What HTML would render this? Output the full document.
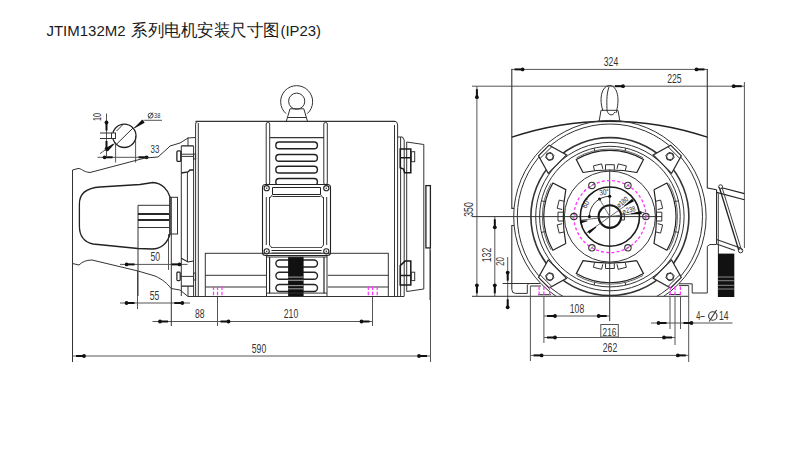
<!DOCTYPE html>
<html><head><meta charset="utf-8"><style>
html,body{margin:0;padding:0;background:#fff;width:800px;height:450px;overflow:hidden}
svg{position:absolute;left:0;top:0}
.title{position:absolute;left:46px;top:19px;font-family:"Liberation Sans",sans-serif;font-size:14px;color:#222;white-space:nowrap}
</style></head><body>
<svg width="800" height="450" viewBox="0 0 800 450">
<line x1="72.5" y1="170" x2="72.5" y2="362" stroke="#333" stroke-width="1"/>
<line x1="430.5" y1="250" x2="430.5" y2="362" stroke="#555" stroke-width="1"/>
<line x1="73" y1="356" x2="430" y2="356" stroke="#555" stroke-width="1"/>
<line x1="84.00" y1="356.00" x2="76.00" y2="356.00" stroke="#111" stroke-width="2"/>
<circle cx="84.00" cy="356.00" r="1.9" fill="#111"/>
<line x1="419.00" y1="356.00" x2="427.00" y2="356.00" stroke="#111" stroke-width="2"/>
<circle cx="419.00" cy="356.00" r="1.9" fill="#111"/>
<text transform="translate(259,352.5) scale(0.72,1)" font-family="Liberation Sans" font-size="12" text-anchor="middle" fill="#333">590</text>
<line x1="152.5" y1="321.5" x2="372.5" y2="321.5" stroke="#555" stroke-width="1"/>
<line x1="160.00" y1="321.50" x2="168.00" y2="321.50" stroke="#111" stroke-width="2"/>
<circle cx="160.00" cy="321.50" r="1.9" fill="#111"/>
<line x1="228.50" y1="321.50" x2="220.50" y2="321.50" stroke="#111" stroke-width="2"/>
<circle cx="228.50" cy="321.50" r="1.9" fill="#111"/>
<line x1="361.50" y1="321.50" x2="369.50" y2="321.50" stroke="#111" stroke-width="2"/>
<circle cx="361.50" cy="321.50" r="1.9" fill="#111"/>
<line x1="217.5" y1="296" x2="217.5" y2="326" stroke="#555" stroke-width="1"/>
<line x1="372.5" y1="296" x2="372.5" y2="326" stroke="#555" stroke-width="1"/>
<text transform="translate(199.7,317.5) scale(0.72,1)" font-family="Liberation Sans" font-size="12" text-anchor="middle" fill="#333">88</text>
<text transform="translate(291,317.5) scale(0.72,1)" font-family="Liberation Sans" font-size="12" text-anchor="middle" fill="#333">210</text>
<line x1="120" y1="303" x2="190" y2="303" stroke="#555" stroke-width="1"/>
<line x1="126.50" y1="303.00" x2="134.50" y2="303.00" stroke="#111" stroke-width="2"/>
<circle cx="126.50" cy="303.00" r="1.9" fill="#111"/>
<line x1="182.30" y1="303.00" x2="174.30" y2="303.00" stroke="#111" stroke-width="2"/>
<circle cx="182.30" cy="303.00" r="1.9" fill="#111"/>
<line x1="137.5" y1="271" x2="137.5" y2="309" stroke="#555" stroke-width="1"/>
<line x1="171.3" y1="197" x2="171.3" y2="326" stroke="#333" stroke-width="1"/>
<text transform="translate(154.5,299.5) scale(0.72,1)" font-family="Liberation Sans" font-size="12" text-anchor="middle" fill="#333">55</text>
<line x1="120" y1="264.4" x2="187.6" y2="264.4" stroke="#555" stroke-width="1"/>
<line x1="126.60" y1="264.40" x2="134.60" y2="264.40" stroke="#111" stroke-width="2"/>
<circle cx="126.60" cy="264.40" r="1.9" fill="#111"/>
<line x1="179.50" y1="264.40" x2="171.50" y2="264.40" stroke="#111" stroke-width="2"/>
<circle cx="179.50" cy="264.40" r="1.9" fill="#111"/>
<line x1="168.5" y1="234" x2="168.5" y2="270" stroke="#555" stroke-width="1"/>
<text transform="translate(155.3,261) scale(0.72,1)" font-family="Liberation Sans" font-size="12" text-anchor="middle" fill="#333">50</text>
<line x1="97.5" y1="157.3" x2="148.7" y2="157.3" stroke="#555" stroke-width="1"/>
<line x1="104.60" y1="157.30" x2="112.60" y2="157.30" stroke="#111" stroke-width="2"/>
<circle cx="104.60" cy="157.30" r="1.9" fill="#111"/>
<line x1="146.60" y1="157.30" x2="138.60" y2="157.30" stroke="#111" stroke-width="2"/>
<circle cx="146.60" cy="157.30" r="1.9" fill="#111"/>
<line x1="115.6" y1="144" x2="115.6" y2="162.5" stroke="#555" stroke-width="1"/>
<line x1="135.6" y1="136" x2="135.6" y2="162.5" stroke="#555" stroke-width="1"/>
<text transform="translate(155,152.5) scale(0.72,1)" font-family="Liberation Sans" font-size="11" text-anchor="middle" fill="#333">33</text>
<line x1="106.5" y1="113.5" x2="106.5" y2="157" stroke="#555" stroke-width="1"/>
<line x1="106.50" y1="122.50" x2="106.50" y2="130.50" stroke="#111" stroke-width="2"/>
<circle cx="106.50" cy="122.50" r="1.9" fill="#111"/>
<line x1="106.50" y1="149.00" x2="106.50" y2="141.00" stroke="#111" stroke-width="2"/>
<circle cx="106.50" cy="149.00" r="1.9" fill="#111"/>
<text transform="translate(101,117) rotate(-90) scale(0.72,1)" font-family="Liberation Sans" font-size="10" text-anchor="middle" fill="#333">10</text>
<line x1="100" y1="133" x2="111.5" y2="133" stroke="#333" stroke-width="1"/>
<line x1="100" y1="138.5" x2="111.5" y2="138.5" stroke="#333" stroke-width="1"/>
<line x1="100" y1="153.7" x2="113" y2="144" stroke="#555" stroke-width="1"/>
<polygon points="114.35,143.40 105.27,148.22 107.73,151.38 114.65,143.80" fill="#111"/>
<circle cx="124.3" cy="135.8" r="11.7" stroke="#222" stroke-width="1.3" fill="none"/>
<line x1="116.7" y1="144" x2="133" y2="128" stroke="#333" stroke-width="1"/>
<line x1="116.5" y1="131" x2="123" y2="124.5" stroke="#333" stroke-width="1"/>
<rect x="111.5" y="133" width="4" height="5.5" rx="0" stroke="#333" stroke-width="1" fill="#fff"/>
<line x1="134" y1="128" x2="144.5" y2="120.3" stroke="#555" stroke-width="1"/>
<polygon points="134.95,128.00 144.71,122.79 142.29,119.61 134.65,127.60" fill="#111"/>
<line x1="144.5" y1="120.3" x2="162" y2="120.3" stroke="#555" stroke-width="1"/>
<circle cx="150.6" cy="115.6" r="2.5" stroke="#333" stroke-width="0.9" fill="none"/>
<line x1="148.6" y1="118.4" x2="152.8" y2="112.6" stroke="#333" stroke-width="0.9"/>
<text transform="translate(157.2,118.2) scale(0.75,1)" font-family="Liberation Sans" font-size="7.5" text-anchor="middle" fill="#333">38</text>
<path d="M72.5,170 L78,168.5 C81,168 83,172 90,172.5 L145,158 L158,157 L168,148 L170,146 L180,143 L188,138 L195,137.5" stroke="#333" stroke-width="1" fill="none"/>
<path d="M72.5,263.5 L79,265 C82,262 86,260 92,260 L138,271 L155,276 C162,279 168,284 171,288.5 L180,290 L188,296.5 L404,296.5" stroke="#333" stroke-width="1" fill="none"/>
<path d="M79.4,226 L79.4,204 C79.4,194 85,188 100,187 L140,184.5 L153,182.5 C162,183 168,190 170,197 L170,234 C168,242 162,249 152,249 L138,248.5 L93,244 C84,242 79.4,236 79.4,226 Z" stroke="#222" stroke-width="1.3" fill="none"/>
<path d="M170,205.3 L138,205.3 L138,296" stroke="#333" stroke-width="1" fill="none"/>
<line x1="138" y1="214" x2="169" y2="214" stroke="#111" stroke-width="1.8"/>
<line x1="138" y1="220" x2="169" y2="220" stroke="#111" stroke-width="1.8"/>
<line x1="138" y1="227.5" x2="169" y2="227.5" stroke="#333" stroke-width="1"/>
<path d="M169,214 Q171,217 169,220" stroke="#333" stroke-width="1" fill="none"/>
<rect x="169.8" y="197.3" width="7.7" height="36.7" rx="0" stroke="#333" stroke-width="1" fill="none"/>
<line x1="181.3" y1="145.9" x2="181.3" y2="296" stroke="#333" stroke-width="1"/>
<line x1="187.4" y1="172" x2="187.4" y2="262" stroke="#333" stroke-width="1"/>
<line x1="188" y1="286.5" x2="188" y2="296" stroke="#333" stroke-width="1"/>
<line x1="193.6" y1="145.9" x2="193.6" y2="296" stroke="#333" stroke-width="1"/>
<path d="M195.6,296.5 L195.6,124 Q195.6,121.5 198,121.5" stroke="#333" stroke-width="1" fill="none"/>
<line x1="198.3" y1="123" x2="198.3" y2="296.5" stroke="#333" stroke-width="1"/>
<path d="M181.3,145.9 L193.6,145.9 M193.6,170 L190,170 L188,172 L181.3,173" stroke="#222" stroke-width="1.3" fill="none"/>
<line x1="188" y1="137.5" x2="188" y2="145.9" stroke="#333" stroke-width="1"/>
<rect x="176.9" y="150.9" width="3.9" height="10.5" rx="1.2" stroke="#222" stroke-width="1.3" fill="none"/>
<line x1="180.8" y1="154.2" x2="193.6" y2="154.2" stroke="#333" stroke-width="1"/>
<line x1="180.8" y1="156.4" x2="193.6" y2="156.4" stroke="#333" stroke-width="1"/>
<rect x="193.6" y="154" width="2" height="5" rx="0" stroke="#333" stroke-width="1" fill="none"/>
<path d="M181.3,258.3 L188,262 L193.6,261 M181.3,286.1 L193.6,286.1" stroke="#222" stroke-width="1.1" fill="none"/>
<rect x="176.9" y="272.2" width="3.3" height="8.4" rx="0.8" stroke="#222" stroke-width="1.2" fill="none"/>
<line x1="180.2" y1="276.4" x2="193.6" y2="276.4" stroke="#333" stroke-width="1"/>
<rect x="193.6" y="273" width="2" height="7" rx="0" stroke="#333" stroke-width="1" fill="none"/>
<line x1="195.5" y1="121.3" x2="395" y2="121.3" stroke="#333" stroke-width="1.2"/>
<path d="M395,121.3 Q397.6,121.5 397.6,125 L397.6,296.5" stroke="#333" stroke-width="1" fill="none"/>
<line x1="394.5" y1="125" x2="394.5" y2="296.5" stroke="#333" stroke-width="1"/>
<path d="M286,113.6 A16,16 0 1 1 307.3,113.6" stroke="#333" stroke-width="1" fill="none"/>
<circle cx="296.7" cy="101.2" r="8.1" stroke="#333" stroke-width="1" fill="none"/>
<path d="M286.3,121.3 L290,108.8 L303.8,108.8 L307.5,121.3" stroke="#333" stroke-width="1" fill="none"/>
<line x1="287.5" y1="117.5" x2="306" y2="117.5" stroke="#333" stroke-width="1"/>
<rect x="266.2" y="122.5" width="3.5" height="62" rx="1.5" stroke="#333" stroke-width="1" fill="none"/>
<rect x="323.8" y="122.5" width="3.5" height="62" rx="1.5" stroke="#333" stroke-width="1" fill="none"/>
<line x1="270" y1="137.7" x2="324" y2="137.7" stroke="#333" stroke-width="1.2"/>
<rect x="275.8" y="142" width="41.6" height="6.7" rx="3.3" stroke="#222" stroke-width="1.4" fill="none"/>
<rect x="275.8" y="154.5" width="41.6" height="6.7" rx="3.3" stroke="#222" stroke-width="1.4" fill="none"/>
<rect x="275.8" y="166.3" width="41.6" height="6.7" rx="3.3" stroke="#222" stroke-width="1.4" fill="none"/>
<rect x="275.8" y="178.5" width="41.6" height="6.7" rx="3.3" stroke="#222" stroke-width="1.4" fill="none"/>
<rect x="262.5" y="184.5" width="68" height="71" rx="3" stroke="#222" stroke-width="1.1" fill="#fff"/>
<line x1="266.3" y1="197" x2="266.3" y2="245" stroke="#333" stroke-width="1"/>
<line x1="269.5" y1="197" x2="269.5" y2="245" stroke="#333" stroke-width="1"/>
<line x1="323.5" y1="197" x2="323.5" y2="245" stroke="#333" stroke-width="1"/>
<line x1="326.7" y1="197" x2="326.7" y2="245" stroke="#333" stroke-width="1"/>
<path d="M272.5,187.5 L320.5,187.5 L320.5,194.5 L272.5,194.5 Z" stroke="#222" stroke-width="1" fill="none"/>
<line x1="272.5" y1="196.5" x2="320.5" y2="196.5" stroke="#333" stroke-width="1"/>
<path d="M272.5,194.5 L269.5,198.5 M320.5,194.5 L323.5,198.5" stroke="#333" stroke-width="1" fill="none"/>
<line x1="271.5" y1="247.5" x2="321.5" y2="247.5" stroke="#555" stroke-width="1"/>
<line x1="271.5" y1="250.5" x2="321.5" y2="250.5" stroke="#222" stroke-width="1.2"/>
<line x1="271.5" y1="253" x2="321.5" y2="253" stroke="#555" stroke-width="1"/>
<path d="M269.5,245 L272,248 M323.5,245 L321,248" stroke="#333" stroke-width="1" fill="none"/>
<circle cx="266.7" cy="188.2" r="2.6" stroke="#222" stroke-width="1.1" fill="none"/>
<circle cx="266.7" cy="188.2" r="0.8" stroke="#444" stroke-width="0" fill="#333"/>
<circle cx="326.3" cy="188.2" r="2.6" stroke="#222" stroke-width="1.1" fill="none"/>
<circle cx="326.3" cy="188.2" r="0.8" stroke="#444" stroke-width="0" fill="#333"/>
<circle cx="266.7" cy="251.3" r="2.6" stroke="#222" stroke-width="1.1" fill="none"/>
<circle cx="266.7" cy="251.3" r="0.8" stroke="#444" stroke-width="0" fill="#333"/>
<circle cx="326.3" cy="251.3" r="2.6" stroke="#222" stroke-width="1.1" fill="none"/>
<circle cx="326.3" cy="251.3" r="0.8" stroke="#444" stroke-width="0" fill="#333"/>
<rect x="275.9" y="260" width="41.6" height="7" rx="3.5" stroke="#222" stroke-width="1.4" fill="none"/>
<rect x="275.9" y="272.3" width="41.6" height="7" rx="3.5" stroke="#222" stroke-width="1.4" fill="none"/>
<rect x="275.9" y="284.5" width="41.6" height="7" rx="3.5" stroke="#222" stroke-width="1.4" fill="none"/>
<rect x="288.1" y="256.8" width="15.5" height="39.6" rx="0" stroke="#444" stroke-width="0" fill="#111"/>
<line x1="288.1" y1="277.1" x2="303.6" y2="277.1" stroke="#999" stroke-width="1.1"/>
<line x1="288.1" y1="280.3" x2="303.6" y2="280.3" stroke="#999" stroke-width="1.1"/>
<line x1="288.1" y1="285.6" x2="303.6" y2="285.6" stroke="#999" stroke-width="1.1"/>
<line x1="288.1" y1="288.8" x2="303.6" y2="288.8" stroke="#999" stroke-width="1.1"/>
<line x1="266.5" y1="255.6" x2="266.5" y2="296.5" stroke="#333" stroke-width="1"/>
<line x1="327" y1="255.6" x2="327" y2="296.5" stroke="#333" stroke-width="1"/>
<line x1="269.6" y1="257" x2="269.6" y2="293.5" stroke="#222" stroke-width="1.2"/>
<line x1="324" y1="257" x2="324" y2="293.5" stroke="#222" stroke-width="1.2"/>
<line x1="266.5" y1="257" x2="327" y2="257" stroke="#333" stroke-width="1"/>
<line x1="266.5" y1="293.1" x2="327" y2="293.1" stroke="#333" stroke-width="1"/>
<rect x="205.3" y="253.3" width="183" height="43.2" rx="0" stroke="#333" stroke-width="1" fill="none"/>
<line x1="205.3" y1="275.3" x2="266" y2="275.3" stroke="#333" stroke-width="1"/>
<line x1="327.8" y1="275.3" x2="388.3" y2="275.3" stroke="#333" stroke-width="1"/>
<line x1="205.3" y1="287" x2="266" y2="287" stroke="#333" stroke-width="1"/>
<line x1="327.8" y1="287" x2="388.3" y2="287" stroke="#333" stroke-width="1"/>
<line x1="213.5" y1="286.5" x2="213.5" y2="296.5" stroke="#f3f" stroke-width="1.2" stroke-dasharray="3.5,1.7"/>
<line x1="217.5" y1="286.5" x2="217.5" y2="296.5" stroke="#f3f" stroke-width="1.2" stroke-dasharray="3.5,1.7"/>
<line x1="222" y1="286.5" x2="222" y2="296.5" stroke="#f3f" stroke-width="1.2" stroke-dasharray="3.5,1.7"/>
<line x1="368.3" y1="286.5" x2="368.3" y2="296.5" stroke="#f3f" stroke-width="1.2" stroke-dasharray="3.5,1.7"/>
<line x1="372.6" y1="286.5" x2="372.6" y2="296.5" stroke="#f3f" stroke-width="1.2" stroke-dasharray="3.5,1.7"/>
<line x1="377.2" y1="286.5" x2="377.2" y2="296.5" stroke="#f3f" stroke-width="1.2" stroke-dasharray="3.5,1.7"/>
<path d="M397.6,137 L402.5,137 L404.2,140 L404.2,296.5 M406.7,142 L423.8,144.5 L423.8,289 L406.7,291.5 L406.7,142" stroke="#333" stroke-width="1" fill="none"/>
<line x1="400.6" y1="137" x2="400.6" y2="296" stroke="#333" stroke-width="1"/>
<path d="M400.2,148.9 L410.8,148.9 L410.8,172.8 L404.7,172.8 L403.5,169 L400.2,167.8 Z M400.2,157.8 L410.8,157.8" stroke="#1a1a1a" stroke-width="1.5" fill="none"/>
<rect x="411.3" y="151.7" width="3.4" height="10" rx="0" stroke="#333" stroke-width="1" fill="none"/>
<path d="M400.2,265.6 L405,261.1 L410.8,261.1 L410.8,285 L400.2,285 Z M400.2,275.6 L410.8,275.6" stroke="#1a1a1a" stroke-width="1.5" fill="none"/>
<rect x="411.3" y="272.2" width="3.4" height="8.4" rx="0" stroke="#333" stroke-width="1" fill="none"/>
<rect x="425.9" y="185.6" width="4.5" height="62.3" rx="0" stroke="#222" stroke-width="1.3" fill="none"/>
<line x1="430" y1="248" x2="430" y2="300" stroke="#333" stroke-width="1"/>
<line x1="511.6" y1="69.4" x2="707.5" y2="69.4" stroke="#555" stroke-width="1"/>
<line x1="522.60" y1="69.40" x2="514.60" y2="69.40" stroke="#111" stroke-width="2"/>
<circle cx="522.60" cy="69.40" r="1.9" fill="#111"/>
<line x1="696.50" y1="69.40" x2="704.50" y2="69.40" stroke="#111" stroke-width="2"/>
<circle cx="696.50" cy="69.40" r="1.9" fill="#111"/>
<text transform="translate(611,66.2) scale(0.72,1)" font-family="Liberation Sans" font-size="12" text-anchor="middle" fill="#333">324</text>
<line x1="472" y1="86.2" x2="744.7" y2="86.2" stroke="#555" stroke-width="1"/>
<line x1="623.00" y1="86.20" x2="615.00" y2="86.20" stroke="#111" stroke-width="2"/>
<circle cx="623.00" cy="86.20" r="1.9" fill="#111"/>
<line x1="733.70" y1="86.20" x2="741.70" y2="86.20" stroke="#111" stroke-width="2"/>
<circle cx="733.70" cy="86.20" r="1.9" fill="#111"/>
<text transform="translate(674.4,83.2) scale(0.72,1)" font-family="Liberation Sans" font-size="12" text-anchor="middle" fill="#333">225</text>
<line x1="744.4" y1="82" x2="744.4" y2="248" stroke="#555" stroke-width="1"/>
<path d="M511.8,69 L511.8,208.4 L514,208.4 M514,225.5 L511.8,225.5 L511.8,289.5" stroke="#333" stroke-width="1.1" fill="none"/>
<line x1="707.3" y1="69" x2="707.3" y2="188.3" stroke="#333" stroke-width="1.1"/>
<line x1="476.9" y1="86.2" x2="476.9" y2="296.3" stroke="#555" stroke-width="1"/>
<line x1="476.90" y1="97.20" x2="476.90" y2="89.20" stroke="#111" stroke-width="2"/>
<circle cx="476.90" cy="97.20" r="1.9" fill="#111"/>
<line x1="476.90" y1="285.30" x2="476.90" y2="293.30" stroke="#111" stroke-width="2"/>
<circle cx="476.90" cy="285.30" r="1.9" fill="#111"/>
<text transform="translate(472.8,209.5) rotate(-90) scale(0.72,1)" font-family="Liberation Sans" font-size="12" text-anchor="middle" fill="#333">350</text>
<line x1="494.8" y1="216.3" x2="494.8" y2="296.3" stroke="#555" stroke-width="1"/>
<line x1="494.80" y1="227.30" x2="494.80" y2="219.30" stroke="#111" stroke-width="2"/>
<circle cx="494.80" cy="227.30" r="1.9" fill="#111"/>
<line x1="494.80" y1="285.30" x2="494.80" y2="293.30" stroke="#111" stroke-width="2"/>
<circle cx="494.80" cy="285.30" r="1.9" fill="#111"/>
<text transform="translate(490.5,255) rotate(-90) scale(0.72,1)" font-family="Liberation Sans" font-size="12" text-anchor="middle" fill="#333">132</text>
<line x1="507.7" y1="257" x2="507.7" y2="308.5" stroke="#555" stroke-width="1"/>
<line x1="507.70" y1="272.60" x2="507.70" y2="280.60" stroke="#111" stroke-width="2"/>
<circle cx="507.70" cy="272.60" r="1.9" fill="#111"/>
<line x1="507.70" y1="307.30" x2="507.70" y2="299.30" stroke="#111" stroke-width="2"/>
<circle cx="507.70" cy="307.30" r="1.9" fill="#111"/>
<text transform="translate(503.5,261.5) rotate(-90) scale(0.72,1)" font-family="Liberation Sans" font-size="11" text-anchor="middle" fill="#333">20</text>
<line x1="472" y1="296.3" x2="688.7" y2="296.3" stroke="#333" stroke-width="1"/>
<line x1="502.6" y1="283.5" x2="540" y2="283.5" stroke="#333" stroke-width="1"/>
<path d="M511.8,137.2 A306.6,306.6 0 0 1 707.3,137.2" stroke="#222" stroke-width="1.4" fill="none"/>
<path d="M511.8,289.5 Q511.8,293.4 515.5,293.4 L527.3,293.4" stroke="#333" stroke-width="1" fill="none"/>
<path d="M707.3,246.3 L707.3,293 L692.2,293" stroke="#333" stroke-width="1" fill="none"/>
<defs><clipPath id="cb"><rect x="0" y="0" width="800" height="296.3"/></clipPath></defs><g clip-path="url(#cb)">
<circle cx="609.9" cy="216.6" r="96.2" stroke="#333" stroke-width="1" fill="none"/>
<circle cx="609.9" cy="216.6" r="92.6" stroke="#333" stroke-width="1" fill="none"/>
<circle cx="609.9" cy="216.6" r="79" stroke="#333" stroke-width="1.6" fill="none"/>
<circle cx="609.9" cy="216.6" r="74.2" stroke="#333" stroke-width="1" fill="none"/>
<circle cx="609.9" cy="216.6" r="70.3" stroke="#333" stroke-width="1" fill="none"/>
</g>
<circle cx="609.9" cy="216.6" r="45.5" stroke="#333" stroke-width="1" fill="none"/>
<line x1="472" y1="216.6" x2="662" y2="216.6" stroke="#333" stroke-width="1"/>
<line x1="609.7" y1="169.7" x2="609.7" y2="321" stroke="#333" stroke-width="1"/>
<path d="M681.3,155.8 L670.7,145.2 L653.2,154.9 L671.6,173.3 Z" stroke="#2a2a2a" stroke-width="1.2" fill="#fff"/>
<line x1="679.9" y1="158.6" x2="667.9" y2="146.6" stroke="#333" stroke-width="1"/>
<polygon points="673.0,153.5 668.9,152.4 665.9,155.4 667.0,159.5 671.1,160.6 674.1,157.6" stroke="#333" stroke-width="1" fill="none"/>
<circle cx="670.0" cy="156.5" r="3.3" stroke="#333" stroke-width="1" fill="none"/>
<path d="M549.1,145.2 L538.5,155.8 L548.2,173.3 L566.6,154.9 Z" stroke="#2a2a2a" stroke-width="1.2" fill="#fff"/>
<line x1="551.9" y1="146.6" x2="539.9" y2="158.6" stroke="#333" stroke-width="1"/>
<polygon points="546.8,153.5 545.7,157.6 548.7,160.6 552.8,159.5 553.9,155.4 550.9,152.4" stroke="#333" stroke-width="1" fill="none"/>
<circle cx="549.8" cy="156.5" r="3.3" stroke="#333" stroke-width="1" fill="none"/>
<path d="M538.5,277.4 L549.1,288.0 L566.6,278.3 L548.2,259.9 Z" stroke="#2a2a2a" stroke-width="1.2" fill="#fff"/>
<line x1="539.9" y1="274.6" x2="551.9" y2="286.6" stroke="#333" stroke-width="1"/>
<polygon points="546.8,279.7 550.9,280.8 553.9,277.8 552.8,273.7 548.7,272.6 545.7,275.6" stroke="#333" stroke-width="1" fill="none"/>
<circle cx="549.8" cy="276.7" r="3.3" stroke="#333" stroke-width="1" fill="none"/>
<path d="M670.7,288.0 L681.3,277.4 L671.6,259.9 L653.2,278.3 Z" stroke="#2a2a2a" stroke-width="1.2" fill="#fff"/>
<line x1="667.9" y1="286.6" x2="679.9" y2="274.6" stroke="#333" stroke-width="1"/>
<polygon points="673.0,279.7 674.1,275.6 671.1,272.6 667.0,273.7 665.9,277.8 668.9,280.8" stroke="#333" stroke-width="1" fill="none"/>
<circle cx="670.0" cy="276.7" r="3.3" stroke="#333" stroke-width="1" fill="none"/>
<path d="M583.0,172.5 L576.3,159.6 A66.2,66.2 0 0 1 643.5,159.6 L636.8,172.5 A148,148 0 0 0 583.0,172.5" stroke="#222" stroke-width="1.2" fill="none"/>
<path d="M595.0,152.1 L594.1,148.1 M624.8,152.1 L625.7,148.1" stroke="#333" stroke-width="1" fill="none"/>
<path d="M576.6,157.8 A67.6,67.6 0 0 1 643.2,157.8" stroke="#555" stroke-width="0.9" fill="none"/>
<path d="M614.3,169.9 L614.3,164.7 L605.5,164.7 L605.5,169.9" stroke="#333" stroke-width="1" fill="none"/>
<path d="M602.8,168.9 L601.6,163.9 L593.4,165.9 L594.6,170.9" stroke="#333" stroke-width="1" fill="none"/>
<path d="M625.2,170.9 L626.4,165.9 L618.2,163.9 L617.0,168.9" stroke="#333" stroke-width="1" fill="none"/>
<path d="M565.8,243.5 L552.9,250.2 A66.2,66.2 0 0 1 552.9,183.0 L565.8,189.7 A148,148 0 0 0 565.8,243.5" stroke="#222" stroke-width="1.2" fill="none"/>
<path d="M545.4,231.5 L541.4,232.4 M545.4,201.7 L541.4,200.8" stroke="#333" stroke-width="1" fill="none"/>
<path d="M551.1,249.9 A67.6,67.6 0 0 1 551.1,183.3" stroke="#555" stroke-width="0.9" fill="none"/>
<path d="M563.2,212.2 L558.0,212.2 L558.0,221.0 L563.2,221.0" stroke="#333" stroke-width="1" fill="none"/>
<path d="M562.2,223.7 L557.2,224.9 L559.2,233.1 L564.2,231.9" stroke="#333" stroke-width="1" fill="none"/>
<path d="M564.2,201.3 L559.2,200.1 L557.2,208.3 L562.2,209.5" stroke="#333" stroke-width="1" fill="none"/>
<path d="M636.8,260.7 L643.5,273.6 A66.2,66.2 0 0 1 576.3,273.6 L583.0,260.7 A148,148 0 0 0 636.8,260.7" stroke="#222" stroke-width="1.2" fill="none"/>
<path d="M624.8,281.1 L625.7,285.1 M595.0,281.1 L594.1,285.1" stroke="#333" stroke-width="1" fill="none"/>
<path d="M643.2,275.4 A67.6,67.6 0 0 1 576.6,275.4" stroke="#555" stroke-width="0.9" fill="none"/>
<path d="M605.5,263.3 L605.5,268.5 L614.3,268.5 L614.3,263.3" stroke="#333" stroke-width="1" fill="none"/>
<path d="M617.0,264.3 L618.2,269.3 L626.4,267.3 L625.2,262.3" stroke="#333" stroke-width="1" fill="none"/>
<path d="M594.6,262.3 L593.4,267.3 L601.6,269.3 L602.8,264.3" stroke="#333" stroke-width="1" fill="none"/>
<path d="M654.0,189.7 L666.9,183.0 A66.2,66.2 0 0 1 666.9,250.2 L654.0,243.5 A148,148 0 0 0 654.0,189.7" stroke="#222" stroke-width="1.2" fill="none"/>
<path d="M674.4,201.7 L678.4,200.8 M674.4,231.5 L678.4,232.4" stroke="#333" stroke-width="1" fill="none"/>
<path d="M668.7,183.3 A67.6,67.6 0 0 1 668.7,249.9" stroke="#555" stroke-width="0.9" fill="none"/>
<path d="M656.6,221.0 L661.8,221.0 L661.8,212.2 L656.6,212.2" stroke="#333" stroke-width="1" fill="none"/>
<path d="M657.6,209.5 L662.6,208.3 L660.6,200.1 L655.6,201.3" stroke="#333" stroke-width="1" fill="none"/>
<path d="M655.6,231.9 L660.6,233.1 L662.6,224.9 L657.6,223.7" stroke="#333" stroke-width="1" fill="none"/>
<circle cx="609.9" cy="216.6" r="36" stroke="#f3f" stroke-width="1.3" fill="none" stroke-dasharray="3,2.2"/>
<circle cx="609.9" cy="216.6" r="29.6" stroke="#1a1a1a" stroke-width="1.6" fill="none"/>
<circle cx="609.9" cy="216.6" r="11.3" stroke="#1a1a1a" stroke-width="2.1" fill="none"/>
<path d="M621.4,214.0 L624.4,214.0 L624.4,220.0 L621.4,220.0" stroke="#333" stroke-width="1" fill="none"/>
<circle cx="645.9" cy="216.6" r="3.2" stroke="#333" stroke-width="1.1" fill="none"/>
<line x1="643.6" y1="218.9" x2="648.2" y2="214.3" stroke="#666" stroke-width="0.8"/>
<circle cx="627.9" cy="185.42" r="3.2" stroke="#333" stroke-width="1.1" fill="none"/>
<line x1="625.6" y1="187.7" x2="630.2" y2="183.1" stroke="#666" stroke-width="0.8"/>
<circle cx="591.9" cy="185.42" r="3.2" stroke="#333" stroke-width="1.1" fill="none"/>
<line x1="589.6" y1="187.7" x2="594.2" y2="183.1" stroke="#666" stroke-width="0.8"/>
<circle cx="573.9" cy="216.6" r="3.2" stroke="#333" stroke-width="1.1" fill="none"/>
<line x1="571.6" y1="218.9" x2="576.2" y2="214.3" stroke="#666" stroke-width="0.8"/>
<circle cx="591.9" cy="247.78" r="3.2" stroke="#333" stroke-width="1.1" fill="none"/>
<line x1="589.6" y1="250.1" x2="594.2" y2="245.5" stroke="#666" stroke-width="0.8"/>
<circle cx="627.9" cy="247.78" r="3.2" stroke="#333" stroke-width="1.1" fill="none"/>
<line x1="625.6" y1="250.1" x2="630.2" y2="245.5" stroke="#666" stroke-width="0.8"/>
<path d="M527.3,293.4 L527.3,285 L529,283.5 M530.4,286 L541,286 M538,294.7 L551,294.7" stroke="#333" stroke-width="1" fill="none"/>
<path d="M679,283.8 L692.2,283.8 L692.2,293 M679,285.6 L688.7,285.6 M669,294.5 L681,294.5" stroke="#333" stroke-width="1" fill="none"/>
<line x1="539.1" y1="286.4" x2="539.1" y2="295.5" stroke="#f3f" stroke-width="1.2" stroke-dasharray="3.5,1.7"/>
<line x1="543.9" y1="286.4" x2="543.9" y2="295.5" stroke="#f3f" stroke-width="1.2" stroke-dasharray="3.5,1.7"/>
<line x1="549.6" y1="286.4" x2="549.6" y2="295.5" stroke="#f3f" stroke-width="1.2" stroke-dasharray="3.5,1.7"/>
<line x1="670.2" y1="286.4" x2="670.2" y2="295.5" stroke="#f3f" stroke-width="1.2" stroke-dasharray="3.5,1.7"/>
<line x1="675" y1="286.4" x2="675" y2="295.5" stroke="#f3f" stroke-width="1.2" stroke-dasharray="3.5,1.7"/>
<line x1="680.4" y1="286.4" x2="680.4" y2="295.5" stroke="#f3f" stroke-width="1.2" stroke-dasharray="3.5,1.7"/>
<line x1="530.4" y1="286" x2="530.4" y2="361" stroke="#555" stroke-width="1"/>
<line x1="543.9" y1="296.3" x2="543.9" y2="343" stroke="#555" stroke-width="1"/>
<line x1="670" y1="296.3" x2="670" y2="329" stroke="#555" stroke-width="1"/>
<line x1="675" y1="296.3" x2="675" y2="345" stroke="#555" stroke-width="1"/>
<line x1="680.5" y1="296.3" x2="680.5" y2="329" stroke="#555" stroke-width="1"/>
<line x1="688.7" y1="285.6" x2="688.7" y2="362" stroke="#555" stroke-width="1"/>
<path d="M603,111 C599,100 601,86 609.5,85.4 C618,86 620,100 616,113" stroke="#333" stroke-width="1" fill="none"/>
<path d="M609,87 C606,95 607,104 607,111 C609,116 613,116 615,112" stroke="#333" stroke-width="1" fill="none"/>
<path d="M599,122 L601,110.3 L618,110.3 L620,122" stroke="#333" stroke-width="1" fill="none"/>
<line x1="544" y1="316" x2="609.7" y2="316" stroke="#555" stroke-width="1"/>
<line x1="555.00" y1="316.00" x2="547.00" y2="316.00" stroke="#111" stroke-width="2"/>
<circle cx="555.00" cy="316.00" r="1.9" fill="#111"/>
<line x1="598.70" y1="316.00" x2="606.70" y2="316.00" stroke="#111" stroke-width="2"/>
<circle cx="598.70" cy="316.00" r="1.9" fill="#111"/>
<text transform="translate(577,313) scale(0.72,1)" font-family="Liberation Sans" font-size="12" text-anchor="middle" fill="#333">108</text>
<line x1="544" y1="337.5" x2="675" y2="337.5" stroke="#555" stroke-width="1"/>
<line x1="555.00" y1="337.50" x2="547.00" y2="337.50" stroke="#111" stroke-width="2"/>
<circle cx="555.00" cy="337.50" r="1.9" fill="#111"/>
<line x1="664.00" y1="337.50" x2="672.00" y2="337.50" stroke="#111" stroke-width="2"/>
<circle cx="664.00" cy="337.50" r="1.9" fill="#111"/>
<rect x="600.8" y="324.5" width="17.5" height="12.5" rx="0" stroke="#555" stroke-width="1" fill="none"/>
<text transform="translate(609.5,335.5) scale(0.72,1)" font-family="Liberation Sans" font-size="11.5" text-anchor="middle" fill="#333">216</text>
<line x1="530.6" y1="355.4" x2="688.8" y2="355.4" stroke="#555" stroke-width="1"/>
<line x1="541.60" y1="355.40" x2="533.60" y2="355.40" stroke="#111" stroke-width="2"/>
<circle cx="541.60" cy="355.40" r="1.9" fill="#111"/>
<line x1="677.80" y1="355.40" x2="685.80" y2="355.40" stroke="#111" stroke-width="2"/>
<circle cx="677.80" cy="355.40" r="1.9" fill="#111"/>
<text transform="translate(610,352) scale(0.72,1)" font-family="Liberation Sans" font-size="12" text-anchor="middle" fill="#333">262</text>
<line x1="651" y1="323" x2="732.5" y2="323" stroke="#555" stroke-width="1"/>
<line x1="658.50" y1="323.00" x2="666.50" y2="323.00" stroke="#111" stroke-width="2"/>
<circle cx="658.50" cy="323.00" r="1.9" fill="#111"/>
<line x1="691.50" y1="323.00" x2="683.50" y2="323.00" stroke="#111" stroke-width="2"/>
<circle cx="691.50" cy="323.00" r="1.9" fill="#111"/>
<text transform="translate(700.5,320.2) scale(0.62,1)" font-family="Liberation Sans" font-size="12" text-anchor="middle" fill="#333">4–</text>
<text transform="translate(723.8,320.2) scale(0.72,1)" font-family="Liberation Sans" font-size="12" text-anchor="middle" fill="#333">14</text>
<circle cx="712.8" cy="316" r="4.2" stroke="#333" stroke-width="1.1" fill="none"/>
<line x1="709.2" y1="321.5" x2="716.6" y2="310" stroke="#333" stroke-width="1.1"/>
<path d="M707.3,188 L716.6,189.8 M722.9,188 L744.4,193.6 M716.6,192.4 L744.4,199.7" stroke="#222" stroke-width="1.1" fill="none"/>
<line x1="716.6" y1="189.8" x2="716.6" y2="244.5" stroke="#222" stroke-width="1.1"/>
<line x1="718.4" y1="192" x2="718.4" y2="244" stroke="#555" stroke-width="1"/>
<line x1="719.3" y1="187.3" x2="738.8" y2="250.2" stroke="#222" stroke-width="1.3"/>
<line x1="722" y1="187.3" x2="741.5" y2="250.2" stroke="#444" stroke-width="1"/>
<path d="M716.6,239.5 L740.5,248 M716.6,244 L735,250.5" stroke="#333" stroke-width="1.1" fill="none"/>
<circle cx="720.6" cy="186.8" r="2" stroke="#333" stroke-width="1" fill="none"/>
<circle cx="740.6" cy="250.6" r="2.2" stroke="#333" stroke-width="1" fill="none"/>
<path d="M707.3,246.3 L710,244.5 L716,244.5" stroke="#333" stroke-width="1" fill="none"/>
<rect x="717.9" y="253.6" width="16.4" height="43.4" rx="0" stroke="#444" stroke-width="0" fill="#111"/>
<line x1="717.9" y1="277" x2="733.9" y2="277" stroke="#888" stroke-width="1"/>
<line x1="717.9" y1="280.7" x2="733.9" y2="280.7" stroke="#888" stroke-width="1"/>
<line x1="717.9" y1="285.3" x2="733.9" y2="285.3" stroke="#888" stroke-width="1"/>
<line x1="717.9" y1="289" x2="733.9" y2="289" stroke="#888" stroke-width="1"/>
<line x1="718.4" y1="244" x2="718.4" y2="254" stroke="#333" stroke-width="1"/>
<text transform="translate(604.5,194.8) rotate(-8) scale(0.8,1)" font-family="Liberation Sans" font-size="8" text-anchor="middle" fill="#222">30°</text>
<text transform="translate(588.5,204.5) rotate(-60) scale(0.8,1)" font-family="Liberation Sans" font-size="8" text-anchor="middle" fill="#222">60°</text>
<text transform="translate(624,204) rotate(-40) scale(0.75,1)" font-family="Liberation Sans" font-size="7.5" text-anchor="middle" fill="#222">⌀180</text>
<text transform="translate(629.5,212.5) rotate(-12) scale(0.75,1)" font-family="Liberation Sans" font-size="7.5" text-anchor="middle" fill="#222">⌀238</text>
<path d="M589.4,216.6 A20.3,20.3 0 0 1 609.7,196.3" stroke="#333" stroke-width="1" fill="none"/>
<circle cx="589.4" cy="216.6" r="1.6" stroke="#444" stroke-width="0" fill="#111"/>
<circle cx="599.6" cy="199.0" r="1.6" stroke="#444" stroke-width="0" fill="#111"/>
<circle cx="609.7" cy="196.3" r="1.6" stroke="#444" stroke-width="0" fill="#111"/>
<line x1="599.6" y1="199.0" x2="609.7" y2="216.6" stroke="#555" stroke-width="0.8"/>
<line x1="586" y1="233.6" x2="633.5" y2="199.8" stroke="#444" stroke-width="0.8"/>
<line x1="580" y1="220.3" x2="644.4" y2="212.3" stroke="#444" stroke-width="0.8"/>
<polygon points="624.63,206.23 633.91,201.32 632.09,198.68 624.17,205.57" fill="#111"/>
<polygon points="631.05,214.30 641.70,214.19 641.30,211.01 630.95,213.50" fill="#111"/>
<polygon points="587.45,220.40 579.79,220.21 580.21,223.39 587.55,221.20" fill="#111"/>
<polygon points="595.77,226.87 587.58,231.19 589.42,233.81 596.23,227.53" fill="#111"/>
<text x="46.5" y="35.6" font-family="Liberation Sans" font-size="14" fill="#1a1a1a" textLength="79" lengthAdjust="spacingAndGlyphs">JTIM132M2</text>
<text x="131.3" y="35.6" font-family="Liberation Sans" font-size="16.5" fill="#1a1a1a" textLength="148.5" lengthAdjust="spacingAndGlyphs">系列电机安装尺寸图</text>
<text x="280.5" y="35.6" font-family="Liberation Sans" font-size="14" fill="#1a1a1a" textLength="40.5" lengthAdjust="spacingAndGlyphs">(IP23)</text>
</svg>
</body></html>
